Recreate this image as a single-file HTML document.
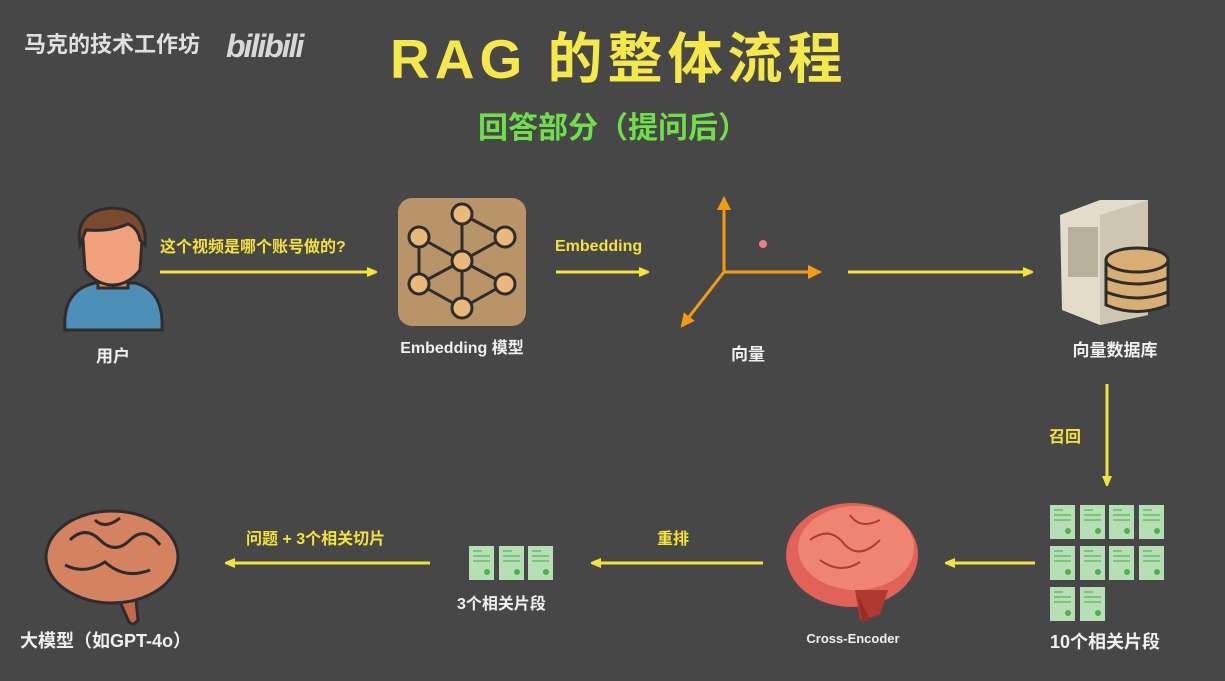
<!DOCTYPE html>
<html><head><meta charset="utf-8"><style>
html,body{margin:0;padding:0;background:#474747;}
svg{display:block}
text{font-family:"Liberation Sans","Noto Sans CJK SC",sans-serif;font-weight:bold}
</style></head><body>
<svg width="1225" height="681" viewBox="0 0 1225 681" xmlns="http://www.w3.org/2000/svg">
<defs>
<marker id="ay" markerWidth="10" markerHeight="10" refX="9" refY="5" orient="auto" markerUnits="userSpaceOnUse"><path d="M0,0 L12,5 L0,10 Z" fill="#f3e23c"/></marker>
<marker id="ao" markerWidth="14" markerHeight="14" refX="12" refY="7" orient="auto" markerUnits="userSpaceOnUse"><path d="M0,0 L14,7 L0,14 Z" fill="#f39c12"/></marker>
<g id="doc">
<rect x="0" y="0" width="25" height="34" fill="#b7dfb5"/>
<rect x="4" y="4" width="9" height="2" fill="#7cc47c"/>
<rect x="4" y="9" width="17" height="2" fill="#7cc47c"/>
<rect x="4" y="14" width="17" height="2" fill="#7cc47c"/>
<circle cx="18" cy="26" r="3" fill="#4caf50"/>
</g>
</defs>
<rect width="1225" height="681" fill="#474747"/>

<!-- header -->
<text x="24" y="52" font-size="22" fill="#e0e0e0" font-weight="normal">马克的技术工作坊</text>
<text x="226" y="57" font-size="32" fill="#d8d8d8" font-style="italic" letter-spacing="-2">bilibili</text>
<text x="390" y="78" font-size="55" fill="#f5e84a" letter-spacing="5">RAG 的整体流程</text>
<text x="478" y="138" font-size="30" fill="#6fe04a">回答部分（提问后）</text>

<!-- user -->
<g stroke="#2d2d2d" stroke-width="3">
<path d="M65,330 Q62,290 95,283 L135,283 Q164,290 162,330 Z" fill="#4e8fb8"/>
<rect x="98" y="262" width="30" height="26" fill="#d98a63"/>
<path d="M83,240 Q80,212 112,210 Q145,212 142,240 L140,270 Q128,285 113,285 Q97,285 85,270 Z" fill="#f0a07a"/>
<path d="M80,245 Q74,212 110,208 Q148,208 145,245 L140,240 Q138,228 128,224 Q110,232 86,230 Z" fill="#7b4a2e"/>
</g>
<text x="113" y="362" font-size="17" fill="#f0f0f0" text-anchor="middle">用户</text>

<line x1="160" y1="272" x2="376" y2="272" stroke="#f3e23c" stroke-width="3" marker-end="url(#ay)"/>
<text x="160" y="252" font-size="16" fill="#f3e23c">这个视频是哪个账号做的?</text>

<!-- embedding model -->
<rect x="398" y="198" width="128" height="128" rx="14" fill="#b99468"/>
<g stroke="#2d2d2d" stroke-width="3" fill="none">
<line x1="462" y1="214" x2="462" y2="308"/>
<line x1="419" y1="237" x2="462" y2="261"/><line x1="419" y1="237" x2="419" y2="284"/>
<line x1="419" y1="284" x2="462" y2="261"/><line x1="419" y1="284" x2="462" y2="308"/>
<line x1="462" y1="214" x2="505" y2="237"/><line x1="505" y1="237" x2="462" y2="261"/>
<line x1="462" y1="261" x2="505" y2="284"/><line x1="505" y1="284" x2="462" y2="308"/>
</g>
<g fill="#eab87a" stroke="#2d2d2d" stroke-width="3">
<circle cx="462" cy="214" r="10"/><circle cx="419" cy="237" r="10"/><circle cx="505" cy="237" r="10"/>
<circle cx="462" cy="261" r="10"/><circle cx="419" cy="284" r="10"/><circle cx="505" cy="284" r="10"/>
<circle cx="462" cy="308" r="10"/>
</g>
<text x="462" y="353" font-size="16" fill="#f0f0f0" text-anchor="middle" font-weight="normal">Embedding 模型</text>

<line x1="556" y1="272" x2="648" y2="272" stroke="#f3e23c" stroke-width="3" marker-end="url(#ay)"/>
<text x="555" y="251" font-size="16" fill="#f3e23c">Embedding</text>

<!-- vector axes -->
<g stroke="#f39c12" stroke-width="3">
<line x1="724" y1="272" x2="724" y2="198" marker-end="url(#ao)"/>
<line x1="724" y1="272" x2="820" y2="272" marker-end="url(#ao)"/>
<line x1="724" y1="272" x2="682" y2="326" marker-end="url(#ao)"/>
</g>
<circle cx="763" cy="244" r="4" fill="#f08080"/>
<text x="748" y="360" font-size="17" fill="#f0f0f0" text-anchor="middle">向量</text>

<line x1="848" y1="272" x2="1032" y2="272" stroke="#f3e23c" stroke-width="3" marker-end="url(#ay)"/>

<!-- server + db -->
<path d="M1060,215 L1100,200 L1148,200 L1148,315 L1100,325 L1062,310 Z" fill="#e3dccb"/>
<path d="M1100,215 L1148,200 L1148,315 L1100,325 Z" fill="#cfc6b2"/>
<rect x="1068" y="227" width="30" height="50" fill="#b9b09c"/>
<g fill="#d8ae74" stroke="#2d2d2d" stroke-width="3">
<path d="M1106,260 L1106,305 Q1137,318 1168,305 L1168,260 Z"/>
<ellipse cx="1137" cy="260" rx="31" ry="12"/>
<path d="M1106,278 Q1137,290 1168,278 M1106,292 Q1137,304 1168,292" fill="none"/>
</g>
<text x="1115" y="356" font-size="17" fill="#f0f0f0" text-anchor="middle">向量数据库</text>

<line x1="1107" y1="384" x2="1107" y2="485" stroke="#f3e23c" stroke-width="3" marker-end="url(#ay)"/>
<text x="1049" y="442" font-size="16" fill="#f3e23c">召回</text>

<!-- 10 docs -->
<use href="#doc" x="1050" y="505"/><use href="#doc" x="1080" y="505"/><use href="#doc" x="1109" y="505"/><use href="#doc" x="1139" y="505"/>
<use href="#doc" x="1050" y="546"/><use href="#doc" x="1080" y="546"/><use href="#doc" x="1109" y="546"/><use href="#doc" x="1139" y="546"/>
<use href="#doc" x="1050" y="587"/><use href="#doc" x="1080" y="587"/>
<text x="1050" y="648" font-size="18" fill="#f0f0f0">10个相关片段</text>

<line x1="1035" y1="563" x2="946" y2="563" stroke="#f3e23c" stroke-width="3" marker-end="url(#ay)"/>

<!-- red brain -->
<ellipse cx="852" cy="555" rx="66" ry="52" fill="#e06258"/>
<ellipse cx="856" cy="548" rx="58" ry="42" fill="#f08472"/>
<path d="M855,590 L888,590 L880,615 L860,620 Z" fill="#b03a32"/>
<path d="M858,595 L870,620 L862,622 Z" fill="#9b2a25"/>
<g stroke="#b03a32" stroke-width="2" fill="none">
<path d="M810,540 Q830,525 845,545 Q860,560 880,540"/><path d="M820,560 Q840,575 860,562"/><path d="M850,515 Q860,530 880,520"/>
</g>
<text x="853" y="643" font-size="13" fill="#f0f0f0" text-anchor="middle">Cross-Encoder</text>

<line x1="763" y1="563" x2="592" y2="563" stroke="#f3e23c" stroke-width="3" marker-end="url(#ay)"/>
<text x="657" y="544" font-size="16" fill="#f3e23c">重排</text>

<!-- 3 docs -->
<use href="#doc" x="469" y="546"/><use href="#doc" x="499" y="546"/><use href="#doc" x="528" y="546"/>
<text x="457" y="609" font-size="16" fill="#f0f0f0">3个相关片段</text>

<line x1="430" y1="563" x2="226" y2="563" stroke="#f3e23c" stroke-width="3" marker-end="url(#ay)"/>
<text x="246" y="544" font-size="16" fill="#f3e23c">问题 + 3个相关切片</text>

<!-- brown brain -->
<path d="M115,590 L128,620 Q132,628 138,620 L135,590 Z" fill="#c5684a" stroke="#2d2d2d" stroke-width="3"/>
<ellipse cx="112" cy="557" rx="66" ry="46" fill="#d4825f" stroke="#2d2d2d" stroke-width="3"/>
<g stroke="#2d2d2d" stroke-width="3" fill="none">
<path d="M70,540 Q85,525 100,540 Q115,555 130,540 Q145,525 160,545"/>
<path d="M65,565 Q85,575 105,562 Q125,580 150,570"/>
<path d="M95,520 Q105,530 120,518"/>
</g>
<text x="20" y="647" font-size="18" fill="#f0f0f0">大模型（如GPT-4o）</text>
</svg>
</body></html>
